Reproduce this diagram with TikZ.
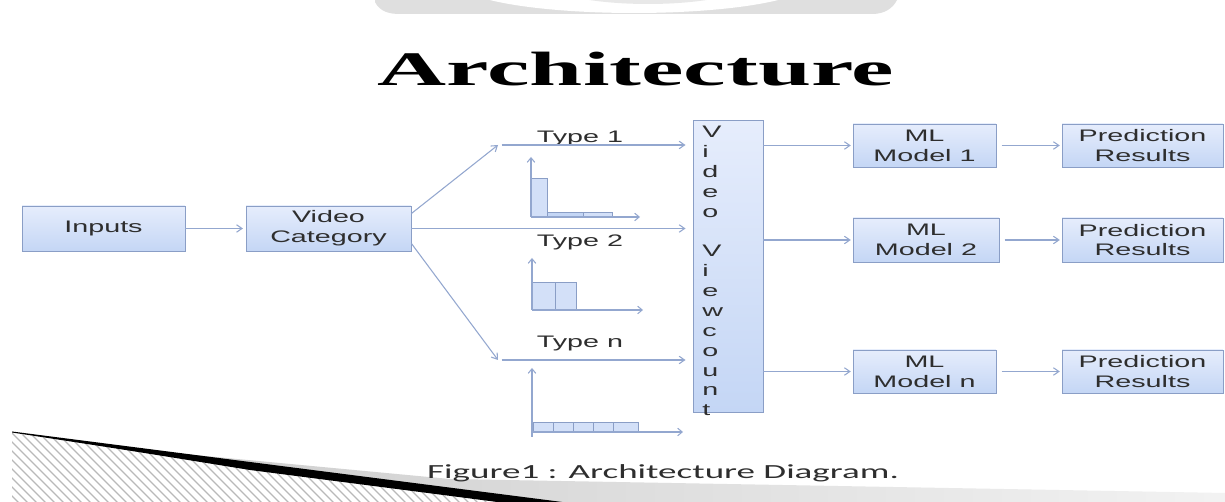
\documentclass[tikz,border=0pt]{standalone}
\usepackage{fontspec}
\setmainfont{Liberation Sans}
\newfontfamily\titlefont{Liberation Serif}
\newfontfamily\capfont{Carlito}
\usetikzlibrary{arrows.meta}
\definecolor{boxfillA}{HTML}{E6EDFC}
\definecolor{boxfillB}{HTML}{C4D6F5}
\definecolor{boxline}{HTML}{8A9EC6}
\definecolor{lnc}{HTML}{93A7CF}
\definecolor{txt}{HTML}{2E2E2E}
\newcommand\sx[1]{\scalebox{1.72}[1]{#1}}
\begin{document}
\begin{tikzpicture}[x=0.02cm,y=-0.02cm,
  box/.style={draw=boxline, line width=0.5pt, top color=boxfillA, bottom color=boxfillB, inner sep=0pt, align=center, text=txt, font=\fontsize{9.5}{11.3}\selectfont},
  arr/.style={draw=lnc, line width=0.6pt, -{Straight Barb[length=1.1mm,width=1.5mm]}},
  axis/.style={draw=lnc, line width=0.6pt, -{Straight Barb[length=0.9mm,width=1.5mm]}},
  bar/.style={draw=boxline, line width=0.4pt, fill=boxfillB!75},
  lab/.style={text=txt, font=\fontsize{9.5}{11.3}\selectfont, inner sep=0pt, anchor=base}]
\useasboundingbox[fill=white] (0,0) rectangle (1225,502);
% top decoration
\begin{scope}
\clip (0,0) rectangle (1225,502);
\fill[gray!25] (375,0) -- (375,2) .. controls (380,12) and (390,14) .. (400,14) -- (872,14) .. controls (885,14) and (893,8) .. (897,0) -- cycle;
\fill[white] (634,-17) ellipse [x radius=175, y radius=30];
\fill[gray!18] (648,-22) ellipse [x radius=110, y radius=26];
% bottom wisp
\shade[left color=gray!40, right color=gray!10] (120,448) -- (450,479) -- (1225,493) -- (1225,502) -- (540,502) -- cycle;
\begin{scope}
\clip (12,433) -- (505,503) -- (12,503) -- cycle;
\foreach \i in {-100,-91,...,520} \draw[gray!55, line width=0.7pt] (\i,420) -- (\i+90,510);
\end{scope}
\fill[black] (12,431.5) -- (570,503) -- (505,503) -- (250,470) .. controls (120,449) .. (12,432.5) -- cycle;
\end{scope}
% title and caption
\node[anchor=base, inner sep=0pt] (title) at (636,86) {\titlefont\bfseries\fontsize{27.4}{33}\selectfont\scalebox{1.985}[1]{Architecture}};
\node[anchor=base, inner sep=0pt, text=txt] (cap) at (663,479) {\capfont\fontsize{11.4}{13}\selectfont\scalebox{1.85}[1]{Figure1 : Architecture Diagram.}};
% boxes
\node[box, minimum width=3.26cm, minimum height=0.9cm] (inp) at (103.5,228.5) {\sx{Inputs}};
\node[box, minimum width=3.3cm, minimum height=0.9cm] (vc) at (328.5,228.5) {\sx{Video}\\\sx{Category}};
\node[box, minimum width=1.4cm, minimum height=5.84cm] (vv) at (728,266) {};
\node[lab, anchor=north west, align=left] (vvt) at (702,126) {\sx{V}\\\sx{i}\\\sx{d}\\\sx{e}\\\sx{o}\\\mbox{}\\\sx{V}\\\sx{i}\\\sx{e}\\\sx{w}\\\sx{c}\\\sx{o}\\\sx{u}\\\sx{n}\\\sx{t}};
\node[box, minimum width=2.86cm, minimum height=0.86cm] (ml1) at (924.5,145.5) {\sx{ML}\\\sx{Model 1}};
\node[box, minimum width=2.92cm, minimum height=0.88cm] (ml2) at (926,240) {\sx{ML}\\\sx{Model 2}};
\node[box, minimum width=2.86cm, minimum height=0.86cm] (mln) at (924.5,371.5) {\sx{ML}\\\sx{Model n}};
\node[box, minimum width=3.22cm, minimum height=0.86cm] (pr1) at (1142.5,145.5) {\sx{Prediction}\\\sx{Results}};
\node[box, minimum width=3.22cm, minimum height=0.88cm] (pr2) at (1142.5,240) {\sx{Prediction}\\\sx{Results}};
\node[box, minimum width=3.22cm, minimum height=0.86cm] (prn) at (1142.5,371.5) {\sx{Prediction}\\\sx{Results}};
% type labels
\node[lab] (ty1) at (580,143) {\sx{Type 1}};
\node[lab] (ty2) at (580,247) {\sx{Type 2}};
\node[lab] (tyn) at (580,348) {\sx{Type n}};
% connectors
\coordinate (t1) at (498,145);
\coordinate (tn) at (498,360);
\draw[arr, shorten >=1.5pt] (inp) -- (vc);
\draw[arr] ([yshift=0.3cm]vc.east) -- (t1);
\draw[arr] ([yshift=-0.3cm]vc.east) -- (tn);
\draw[arr, shorten >=4pt] ([xshift=2pt]t1) -- (t1 -| vv.west);
\draw[arr, shorten >=4pt] (vc.east) -- (vc.east -| vv.west);
\draw[arr, shorten >=4pt] ([xshift=2pt]tn) -- (tn -| vv.west);
\draw[arr, shorten >=1pt] (vv.east |- ml1.west) -- (ml1.west);
\draw[arr, shorten >=1pt] (vv.east |- ml2.west) -- (ml2.west);
\draw[arr, shorten >=1pt] (vv.east |- mln.west) -- (mln.west);
\draw[arr, shorten <=3pt, shorten >=1pt] (ml1) -- (pr1);
\draw[arr, shorten <=3pt, shorten >=1pt] (ml2) -- (pr2);
\draw[arr, shorten <=3pt, shorten >=1pt] (mln) -- (prn);
% chart 1
\draw[bar] (531,178) rectangle (547,217);
\draw[bar, fill=boxfillB] (547,212) rectangle (583,217);
\draw[bar] (583,212) rectangle (612,217);
\draw[axis] (531,217) -- (531,157);
\draw[axis] (531,217) -- (640,217);
% chart 2
\draw[bar] (532,282) rectangle (555,310);
\draw[bar] (555,282) rectangle (576,310);
\draw[axis] (532,310) -- (532,258);
\draw[axis] (532,310) -- (643,310);
% chart 3
\foreach \a/\b in {533/553,553/573,573/593,593/613,613/638} \draw[bar] (\a,422) rectangle (\b,432);
\draw[axis] (532,437) -- (532,368);
\draw[axis] (532,432) -- (683,432);
\end{tikzpicture}
\end{document}
